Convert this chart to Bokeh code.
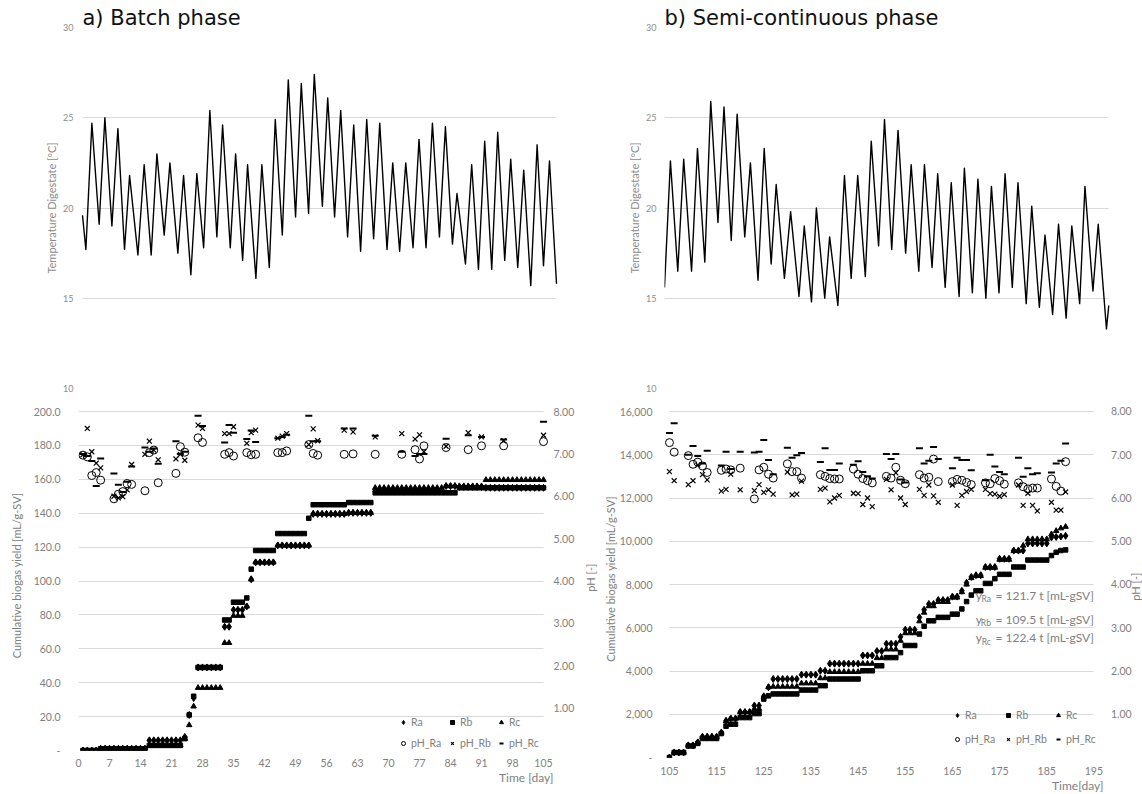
import math
from bokeh.plotting import figure
from bokeh.models import Range1d, FixedTicker, Label, Legend, LegendItem, Title
from bokeh.layouts import row, column
from bokeh.embed import file_html
from bokeh.resources import INLINE

# ---------------- data ----------------
# Temperature of digestate (daily extrema), time in days from panel start
temp_a_t = [0.00, 0.26, 0.72, 1.28, 1.72, 2.26, 2.72, 3.23, 3.62, 4.26, 4.74, 5.28, 5.72, 6.28,
            6.72, 7.33, 7.77, 8.33, 8.79, 9.31, 9.79, 10.33, 10.77, 11.36, 11.77, 12.31, 12.69,
            13.33, 13.79, 14.36, 14.82, 15.36, 15.82, 16.38, 16.82, 17.38, 17.82, 18.44, 18.85,
            19.38, 19.85, 20.38, 20.85, 21.38, 21.85, 22.38, 22.85, 23.41, 23.85, 24.38, 24.85,
            25.41, 25.87, 26.41, 26.90, 27.44, 27.90, 28.44, 28.79, 29.44, 29.92, 30.44, 30.92,
            31.46, 31.92, 32.46, 32.92, 33.46, 33.92, 34.46, 34.95, 35.44, 35.90, 36.44]
temp_a_c = [19.6, 17.7, 24.7, 19.1, 25.0, 19.0, 24.4, 17.7, 21.8, 17.4, 22.4, 17.4, 23.0, 18.5,
            22.5, 17.5, 21.8, 16.3, 21.9, 17.8, 25.4, 18.4, 24.6, 17.8, 23.0, 17.1, 22.4,
            16.1, 22.4, 16.7, 24.9, 18.5, 27.1, 19.5, 26.9, 19.7, 27.4, 20.1, 26.1,
            19.5, 25.4, 18.4, 24.6, 17.6, 24.9, 18.3, 24.7, 17.7, 22.5, 17.6, 22.5,
            17.8, 23.8, 17.8, 24.7, 18.4, 24.5, 18.0, 20.8, 16.9, 22.4, 16.6, 23.7,
            16.6, 24.2, 17.1, 22.7, 16.7, 22.1, 15.7, 23.5, 16.8, 22.6, 15.8]

temp_b_t = [0.00, 0.46, 1.03, 1.49, 2.10, 2.56, 3.13, 3.59, 4.15, 4.62, 5.18, 5.64, 6.23, 6.67,
            7.26, 7.74, 8.28, 8.67, 9.31, 9.79, 10.44, 10.85, 11.41, 11.79, 12.44, 12.82, 13.46,
            13.97, 14.49, 15.00, 15.59, 16.05, 16.62, 17.08, 17.64, 18.13, 18.72, 19.15, 19.74,
            20.18, 20.77, 21.21, 21.79, 22.26, 22.87, 23.28, 23.90, 24.33, 24.95, 25.38, 25.97,
            26.44, 27.00, 27.44, 28.08, 28.51, 29.10, 29.54, 30.13, 30.59, 31.18, 31.62, 32.23,
            32.64, 33.26, 33.67, 34.31, 34.49]
temp_b_c = [15.6, 22.6, 16.5, 22.7, 16.5, 23.3, 17.0, 25.9, 19.2, 25.6, 18.2, 25.2, 18.4, 22.5,
            16.0, 23.3, 16.9, 21.3, 16.1, 19.8, 15.1, 19.0, 14.8, 20.0, 15.0, 18.4, 14.6,
            21.8, 16.1, 21.8, 16.2, 23.7, 17.9, 24.9, 17.7, 24.3, 17.5, 22.4, 16.5,
            22.4, 16.7, 21.9, 15.6, 21.4, 15.1, 22.2, 15.3, 21.6, 15.0, 21.2, 15.3,
            21.9, 15.6, 21.4, 14.7, 20.1, 14.5, 18.5, 14.1, 19.1, 13.9, 19.0, 14.7,
            21.2, 15.4, 19.1, 13.3, 14.6]

# Batch phase cumulative biogas yield [mL/g-SV], days 1..105
batch_days = list(range(1, 106))
batch_ra = [0, 0, 0, 0,
            1, 1, 1, 1, 1, 1, 1, 1, 1, 1, 1,
            6, 6, 6, 6, 6, 6, 6, 6,
            8, 21, 31,
            49, 49, 49, 49, 49, 49,
            73, 73,
            83, 83, 83,
            85, 101,
            111, 111, 111, 111, 111,
            121, 121, 121, 121, 121, 121, 121, 121,
            139.6, 139.6, 139.6, 139.6, 139.6, 139.6, 139.6, 139.6,
            140.2, 140.2, 140.2, 140.2, 140.2, 140.2,
            153, 153, 153, 153, 153, 153, 153, 153, 153, 153, 153, 153, 153, 153, 153, 153,
            156, 156, 156,
            155.5, 155.5, 155.5, 155.5, 155.5, 155.5,
            155, 155, 155, 155, 155, 155, 155, 155, 155, 155, 155, 155, 155, 155]
batch_rb = [0, 0, 0, 0,
            1, 1, 1, 1, 1, 1, 1, 1, 1, 1, 1,
            3, 3, 3, 3, 3, 3, 3, 3,
            7, 21, 32,
            49, 49, 49, 49, 49, 49,
            77, 77,
            87.5, 87.5, 87.5,
            90, 107,
            118, 118, 118, 118, 118,
            128, 128, 128, 128, 128, 128, 128, 137,
            145, 145, 145, 145, 145, 145, 145, 145,
            146.3, 146.3, 146.3, 146.3, 146.3, 146.3,
            152, 152, 152, 152, 152, 152, 152, 152, 152, 152, 152, 152, 152, 152, 152, 152,
            152, 152, 152,
            155, 155, 155, 155, 155, 155,
            155, 155, 155, 155, 155, 155, 155, 155, 155, 155, 155, 155, 155, 155]
batch_rc = [0, 0, 0, 0,
            1, 1, 1, 1, 1, 1, 1, 1, 1, 1, 1,
            3, 3, 3, 3, 3, 3, 3, 3,
            7, 15, 26,
            37, 37, 37, 37, 37, 37,
            63.5, 63.5,
            79.5, 79.5, 79.5,
            85, 101,
            111, 111, 111, 111, 111,
            121, 121, 121, 121, 121, 121, 121, 121,
            139.6, 139.6, 139.6, 139.6, 139.6, 139.6, 139.6, 139.6,
            140.2, 140.2, 140.2, 140.2, 140.2, 140.2,
            155, 155, 155, 155, 155, 155, 155, 155, 155, 155, 155, 155, 155, 155, 155, 155,
            156, 156, 156,
            156, 156, 156, 156, 156, 156,
            159.7, 159.7, 159.7, 159.7, 159.7, 159.7, 159.7, 159.7, 159.7, 159.7, 159.7, 159.7,
            159.7, 159.7]

# Batch phase pH
batch_ph_day = [1, 2, 3, 4, 5, 8, 9, 10, 11, 12, 15, 16, 17, 18, 22, 23, 24, 27, 28, 33, 34, 35,
                38, 39, 40, 45, 46, 47, 52, 53, 54, 60, 62, 67, 73, 76, 77, 78, 83, 88, 91, 96, 105]
batch_ph_ra = [6.97, 6.93, 6.49, 6.56, 6.38, 5.94, 6.05, 6.11, 6.30, 6.28, 6.13, 7.03, 7.09, 6.32,
               6.54, 7.17, 7.04, 7.38, 7.27, 6.99, 7.03, 6.95, 7.03, 6.98, 6.99, 7.03, 7.03, 7.07,
               7.22, 7.01, 6.97, 6.99, 7.00, 6.99, 6.99, 7.10, 6.88, 7.19, 7.15, 7.10, 7.19, 7.19,
               7.29]
batch_ph_rb = [6.98, 7.60, 7.05, 6.78, 6.67, 6.00, 5.96, 5.99, 6.15, 6.75, 6.99, 7.30, 7.09, 6.86,
               6.88, 6.99, 6.85, 7.68, 7.60, 7.48, 7.48, 7.64, 7.25, 7.50, 7.56, 7.37, 7.42, 7.48,
               7.22, 7.59, 7.31, 7.56, 7.52, 7.40, 7.48, 7.35, 7.45, 7.05, 7.18, 7.50, 7.40, 7.31,
               7.44]
batch_ph_rc = [7.00, 6.95, 6.83, 6.24, 6.89, 6.54, 6.27, 6.10, 6.34, 6.70, 7.15, 7.05, 7.13, 6.77,
               7.30, 7.00, 7.05, 7.90, 7.66, 7.27, 7.68, 7.50, 7.35, 7.55, 7.28, 7.37, 7.40, 7.45,
               7.90, 7.30, 7.30, 7.60, 7.60, 7.43, 7.05, 6.95, 7.00, 7.00, 7.36, 7.44, 7.40, 7.34,
               7.76]

# Semi-continuous phase cumulative biogas yield [mL/g-SV], days 105..189
semi_days = list(range(105, 190))
semi_ra = [0, 230, 230, 230, 560, 560, 700, 960, 960, 960, 960, 1150, 1700, 1800, 1800,
           2100, 2100, 2100, 2400, 2400, 2830, 3250,
           3630, 3630, 3630, 3630, 3630, 3630, 3830, 3830, 3830, 3830, 4010, 4010,
           4340, 4340, 4340, 4340, 4340, 4340, 4340, 4720, 4720, 4720, 4920, 4920,
           5260, 5260, 5260, 5580, 5910, 5910, 5910, 6480, 6830, 7100, 7100,
           7280, 7280, 7280, 7440, 7440, 7710, 8080, 8350, 8430, 8430,
           8810, 8810, 8810, 9190, 9190, 9190, 9570, 9570, 9570,
           9900, 9900, 9900, 9900, 9900, 10180, 10200, 10220, 10250]
semi_rb = [0, 230, 230, 230, 535, 535, 650, 880, 880, 880, 880, 1110, 1450, 1540, 1540,
           1845, 1845, 1845, 2030, 2030, 2700, 2850,
           2940, 2940, 2940, 2940, 2940, 2940, 3120, 3120, 3120, 3120, 3320, 3320,
           3630, 3630, 3630, 3630, 3630, 3630, 3630, 4010, 4010, 4010, 4240, 4240,
           4620, 4620, 4620, 4850, 5180, 5180, 5180, 5710, 6070, 6320, 6320,
           6480, 6480, 6480, 6630, 6630, 6870, 7210, 7510, 7710, 7710,
           8050, 8050, 8270, 8470, 8470, 8470, 8810, 8810, 8810,
           9130, 9130, 9130, 9130, 9130, 9340, 9490, 9570, 9600]
semi_rc = [0, 230, 230, 230, 560, 560, 700, 960, 960, 960, 960, 1150, 1680, 1800, 1800,
           2100, 2100, 2100, 2250, 2250, 2800, 3250,
           3280, 3280, 3280, 3280, 3280, 3280, 3430, 3430, 3430, 3430, 3670, 3670,
           3960, 3960, 3960, 3960, 3960, 3960, 3960, 4340, 4340, 4340, 4600, 4600,
           5000, 5000, 5000, 5400, 5750, 5750, 5750, 6300, 6700, 7000, 7000,
           7200, 7200, 7200, 7400, 7400, 7650, 8000, 8300, 8400, 8400,
           8780, 8780, 8780, 9150, 9150, 9150, 9550, 9550, 9800,
           10100, 10100, 10100, 10100, 10100, 10330, 10480, 10600, 10670]

# Semi-continuous phase pH
semi_ph_day = [105, 106, 109, 110, 111, 112, 113, 116, 117, 118, 120, 123, 124, 125, 126, 127,
               130, 131, 132, 133, 137, 138, 139, 140, 141, 144, 145, 146, 147, 148,
               151, 152, 153, 154, 155, 158, 159, 160, 161, 162, 165, 166, 167, 168, 169,
               172, 173, 174, 175, 176, 179, 180, 181, 182, 183, 186, 187, 188, 189]
semi_ph_ra = [7.28, 7.06, 6.98, 6.78, 6.83, 6.74, 6.59, 6.64, 6.67, 6.65, 6.69, 5.98, 6.65, 6.71,
              6.55, 6.46, 6.79, 6.61, 6.61, 6.46, 6.54, 6.50, 6.45, 6.44, 6.44, 6.67, 6.55, 6.45,
              6.40, 6.35, 6.50, 6.46, 6.71, 6.41, 6.33, 6.54, 6.46, 6.48, 6.90, 6.38, 6.38, 6.43,
              6.41, 6.36, 6.31, 6.35, 6.33, 6.45, 6.40, 6.32, 6.35, 6.26, 6.21, 6.23, 6.23, 6.44,
              6.27, 6.16, 6.84]
semi_ph_rb = [6.61, 6.40, 6.31, 6.40, 6.76, 6.54, 6.42, 6.16, 6.20, 6.55, 6.19, 6.17, 6.31, 6.13,
              6.19, 6.09, 6.60, 6.07, 6.09, 6.39, 6.20, 6.23, 5.91, 6.00, 6.06, 6.11, 6.10, 5.85,
              6.00, 5.80, 6.43, 6.19, 6.58, 6.00, 5.85, 6.20, 6.06, 6.30, 6.05, 5.90, 6.30, 5.83,
              6.06, 6.15, 6.20, 6.20, 6.10, 6.09, 6.04, 6.08, 6.30, 5.83, 6.11, 5.83, 5.70, 5.90,
              5.72, 5.72, 6.14]
semi_ph_rc = [7.50, 7.73, 7.00, 7.20, 6.97, 6.80, 7.09, 6.75, 7.07, 6.67, 7.07, 7.05, 7.07, 7.34,
              6.88, 6.55, 7.16, 6.93, 6.99, 7.04, 6.83, 7.15, 6.65, 6.65, 6.80, 6.77, 6.85, 6.60,
              6.50, 6.45, 7.02, 6.90, 7.02, 6.43, 6.36, 7.15, 6.80, 6.86, 7.18, 6.90, 6.69, 6.93,
              6.88, 6.88, 6.64, 6.41, 7.00, 6.73, 6.60, 6.55, 6.93, 6.49, 6.69, 6.55, 6.57, 6.59,
              6.80, 6.86, 7.26]

# Axis ticks and labels
temp_ticks = [10, 15, 20, 25, 30]
batch_day_ticks = [0, 7, 14, 21, 28, 35, 42, 49, 56, 63, 70, 77, 84, 91, 98, 105]
semi_day_ticks = [105, 115, 125, 135, 145, 155, 165, 175, 185, 195]
batch_y_ticks = [0, 20, 40, 60, 80, 100, 120, 140, 160, 180, 200]
batch_y_labels = ["-", "20.0", "40.0", "60.0", "80.0", "100.0", "120.0", "140.0", "160.0",
                  "180.0", "200.0"]
semi_y_ticks = [0, 2000, 4000, 6000, 8000, 10000, 12000, 14000, 16000]
semi_y_labels = ["-", "2,000", "4,000", "6,000", "8,000", "10,000", "12,000", "14,000", "16,000"]
ph_ticks = [0, 1, 2, 3, 4, 5, 6, 7, 8]
ph_labels = ["-", "1.00", "2.00", "3.00", "4.00", "5.00", "6.00", "7.00", "8.00"]

legend_names = ["Ra", "Rb", "Rc", "pH_Ra", "pH_Rb", "pH_Rc"]
fit_series = ["Ra", "Rb", "Rc"]
fit_slopes = ["121.7", "109.5", "122.4"]

# ---------------- styling ----------------
FONT = "Lato"
TITLE_FONT = "DejaVu Sans"
GRAY = "#808080"
LGRAY = "#8c8c8c"
GRID = "#d9d9d9"


def style_axis(ax, tick_size, tick_color, label_size, label_color):
    ax.axis_line_color = None
    ax.major_tick_line_color = None
    ax.minor_tick_line_color = None
    ax.major_tick_out = 0
    ax.major_tick_in = 0
    ax.minor_tick_out = 0
    ax.minor_tick_in = 0
    ax.major_label_text_font = FONT
    ax.major_label_text_font_size = tick_size
    ax.major_label_text_color = tick_color
    ax.axis_label_text_font = FONT
    ax.axis_label_text_font_size = label_size
    ax.axis_label_text_font_style = "normal"
    ax.axis_label_text_color = label_color


def trim_grid(p, lo, hi):
    g = p.ygrid[0]
    if "cross_bounds" in g.properties():
        g.cross_bounds = (lo, hi)


def temp_panel(width, bl, t, c, x0, x1, title, title_off, tick_so, lab_so):
    p = figure(width=width, height=398, output_backend="svg", toolbar_location=None,
               x_range=Range1d(x0, x1), y_range=Range1d(10, 30),
               min_border_left=bl, min_border_right=0, min_border_top=27,
               min_border_bottom=10)
    p.outline_line_color = None
    p.xaxis.visible = False
    p.xgrid.visible = False
    ax = p.yaxis[0]
    ax.ticker = FixedTicker(ticks=temp_ticks)
    ax.axis_label = "Temperature Digestate [ºC]"
    style_axis(ax, "9px", LGRAY, "11px", LGRAY)
    ax.major_label_standoff = tick_so
    ax.axis_label_standoff = lab_so
    p.ygrid.grid_line_color = GRID
    trim_grid(p, t[0], t[-1])
    p.line(t, c, line_color="black", line_width=1.4, line_join="round")
    p.title.text = title
    p.title.text_font = TITLE_FONT
    p.title.text_font_size = "21px"
    p.title.text_font_style = "normal"
    p.title.text_color = "#111111"
    p.title.align = "left"
    p.title.offset = title_off
    p.title.standoff = -5
    return p


def add_series(p, days, ra, rb, rc, ph_days, ph_ra, ph_rb, ph_rc):
    r1 = p.scatter(days, ra, marker="diamond", size=7, color="black")
    r2 = p.scatter(days, rb, marker="square", size=4.5, color="black")
    r3 = p.scatter(days, rc, marker="triangle", size=5.5, color="black")
    r4 = p.scatter(ph_days, ph_ra, marker="circle", size=8, fill_color=None,
                   line_color="black", line_width=1, y_range_name="ph")
    r5 = p.scatter(ph_days, ph_rb, marker="x", size=7, line_color="black",
                   line_width=1.2, y_range_name="ph")
    r6 = p.scatter(ph_days, ph_rc, marker="dash", size=7, line_color="black",
                   line_width=2, y_range_name="ph")
    return [r1, r2, r3, r4, r5, r6]


def add_legends(p, rs, xs, ys):
    for i, (n, r) in enumerate(zip(legend_names, rs)):
        leg = Legend(items=[LegendItem(label=n, renderers=[r])],
                     location=(xs[i % 3], ys[i // 3]), orientation="horizontal")
        leg.background_fill_alpha = 0
        leg.border_line_color = None
        leg.padding = 0
        leg.margin = 0
        leg.spacing = 0
        leg.glyph_width = 10
        leg.glyph_height = 14
        leg.label_height = 14
        leg.label_standoff = 3
        leg.label_text_font = FONT
        leg.label_text_font_size = "10.5px"
        leg.label_text_color = GRAY
        leg.label_text_baseline = "middle"
        p.add_layout(leg)


def yield_panel(width, bl, bb, x0, x1, d0, d1, y_end, ph_end, day_ticks, y_ticks, y_labels,
                l_so, l_lab_so, b_so, time_text, time_offset, ph_dx, ph_lab_dx, ph_lab_y):
    p = figure(width=width, height=396, output_backend="svg", toolbar_location=None,
               x_range=Range1d(x0, x1), y_range=Range1d(0, y_end),
               min_border_left=bl, min_border_right=0, min_border_top=2,
               min_border_bottom=bb)
    p.outline_line_color = None
    p.xgrid.visible = False
    p.ygrid.grid_line_color = GRID
    trim_grid(p, d0, d1)
    p.extra_y_ranges = {"ph": Range1d(0, ph_end)}
    lax = p.left[0]
    lax.axis_label = "Cumulative biogas yield [mL/g-SV]"
    lax.ticker = FixedTicker(ticks=y_ticks)
    lax.major_label_overrides = {t: s for t, s in zip(y_ticks, y_labels)}
    bax = p.below[0]
    bax.ticker = FixedTicker(ticks=day_ticks)
    for ax in (lax, bax):
        style_axis(ax, "10.5px", GRAY, "11px", GRAY)
    lax.major_label_standoff = l_so
    lax.axis_label_standoff = l_lab_so
    bax.major_label_standoff = b_so
    # secondary (pH) axis: tick labels and title drawn as text at the right of the data area
    for t, s in zip(ph_ticks, ph_labels):
        base = "alphabetic" if t == 0 else "middle"
        p.add_layout(Label(x=d1, y=t, y_range_name="ph", text=s, x_offset=ph_dx,
                           text_align="left", text_baseline=base, text_font=FONT,
                           text_font_size="10.5px", text_color=GRAY))
    p.add_layout(Label(x=d1, y=ph_lab_y, y_range_name="ph", text="pH [-]",
                       x_offset=ph_lab_dx, angle=math.pi / 2, text_align="center",
                       text_baseline="middle", text_font=FONT, text_font_size="11px",
                       text_color=GRAY))
    tt = Title(text=time_text, align="right", offset=time_offset, standoff=0,
               vertical_align="top", text_font=FONT, text_font_size="12px",
               text_font_style="normal", text_color=GRAY)
    p.add_layout(tt, "below")
    return p


# ---------------- panels ----------------
# left column: frame 78..600, right column: frame 660..1142
tl = temp_panel(600, 78, temp_a_t, temp_a_c, -0.3075, 39.822, "a) Batch phase", 4, 5, 2)
tr = temp_panel(542, 60, temp_b_t, temp_b_c, 0, 37.108, "b) Semi-continuous phase", 0, 8, 2)

bl = yield_panel(600, 78, 44, 0, 117.87, 0, 105, 206.5, 8.26, batch_day_ticks,
                 batch_y_ticks, batch_y_labels, 18, 8, 8, "Time [day]", 47, 10, 47, 4.08)
rs = add_series(bl, batch_days, batch_ra, batch_rb, batch_rc,
                batch_ph_day, batch_ph_ra, batch_ph_rb, batch_ph_rc)
add_legends(bl, rs, [320, 369, 418], [21, 0])

br = yield_panel(542, 60, 37, 103.949, 205.305, 105, 195, 16509, 8.2543, semi_day_ticks,
                 semi_y_ticks, semi_y_labels, 12, 0, 9, "Time[day]", 39, 17, 42, 3.95)
rs2 = add_series(br, semi_days, semi_ra, semi_rb, semi_rc,
                 semi_ph_day, semi_ph_ra, semi_ph_rb, semi_ph_rc)
add_legends(br, rs2, [288, 339, 389], [35, 11])

for i, (name, slope) in enumerate(zip(fit_series, fit_slopes)):
    yv = [7500, 6400, 5530][i]
    br.add_layout(Label(x=195, y=yv, text="= " + slope + " t [mL-gSV]", text_align="right",
                        text_baseline="middle", x_offset=0, text_font=FONT,
                        text_font_size="12px", text_color=GRAY))
    br.add_layout(Label(x=195, y=yv, text=name, text_align="right", text_baseline="middle",
                        x_offset=-103, y_offset=-4, text_font=FONT, text_font_size="8.5px",
                        text_color=GRAY))
    br.add_layout(Label(x=195, y=yv, text="y", text_align="right", text_baseline="middle",
                        x_offset=-112, text_font=FONT, text_font_size="12px",
                        text_color=GRAY))

layout = row(column(tl, bl), column(tr, br))

with open("out.html", "w") as f:
    f.write(file_html(layout, INLINE))
